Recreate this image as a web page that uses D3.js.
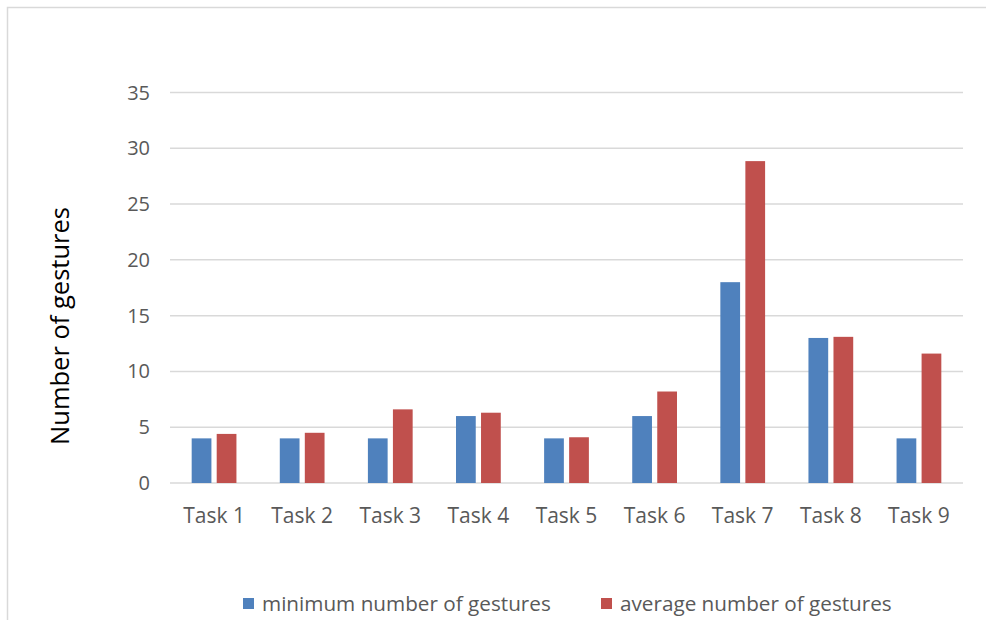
<!DOCTYPE html>
<html>
<head>
<meta charset="utf-8">
<script src="https://cdn.jsdelivr.net/npm/d3@7/dist/d3.min.js"></script>
<style>
  html, body { margin: 0; padding: 0; background: #fff; }
  svg { display: block; }
  text { font-family: "Open Sans", Lato, sans-serif; }
</style>
</head>
<body>
<svg id="chart" width="986" height="620"></svg>
<script>
// Gesture counts per task
const tasks = ["Task 1", "Task 2", "Task 3", "Task 4", "Task 5", "Task 6", "Task 7", "Task 8", "Task 9"];
const minimumGestures = [4, 4, 4, 6, 4, 6, 18, 13, 4];
const averageGestures = [4.4, 4.5, 6.6, 6.3, 4.1, 8.2, 28.85, 13.1, 11.6];
const yTicks = [0, 5, 10, 15, 20, 25, 30, 35];
const seriesNames = ["minimum number of gestures", "average number of gestures"];
const seriesColors = ["#4f81bd", "#c0504d"];

const svg = d3.select("#chart");

// Chart frame
svg.append("path")
  .attr("d", "M7.5,620 L7.5,7.5 L986,7.5")
  .attr("fill", "none")
  .attr("stroke", "#d9d9d9")
  .attr("stroke-width", 1.5);

const plot = { left: 170, right: 963, top: 92.5, bottom: 483 };

const x = d3.scaleBand().domain(tasks).range([plot.left, plot.right]).padding(0);
const y = d3.scaleLinear().domain([0, 35]).range([plot.bottom, plot.top]);

// Horizontal gridlines
svg.append("g")
  .selectAll("line")
  .data(yTicks)
  .join("line")
  .attr("x1", plot.left)
  .attr("x2", plot.right)
  .attr("y1", d => y(d))
  .attr("y2", d => y(d))
  .attr("stroke", "#d9d9d9")
  .attr("stroke-width", 1.5);

// Y tick labels
svg.append("g")
  .selectAll("text")
  .data(yTicks)
  .join("text")
  .attr("x", 150)
  .attr("y", d => y(d))
  .attr("dy", "0.35em")
  .attr("text-anchor", "end")
  .attr("font-size", 20)
  .attr("fill", "#595959")
  .text(d => d);

// X category labels
svg.append("g")
  .selectAll("text")
  .data(tasks)
  .join("text")
  .attr("x", d => x(d) + x.bandwidth() / 2)
  .attr("y", 516)
  .attr("dy", "0.35em")
  .attr("text-anchor", "middle")
  .attr("font-size", 21)
  .attr("fill", "#595959")
  .text(d => d);

// Bars: two per category, positioned inside each band
const barW = x.bandwidth() * 0.224;
const innerGap = x.bandwidth() * 0.06;
const series = [minimumGestures, averageGestures];

series.forEach((vals, si) => {
  svg.append("g")
    .selectAll("rect")
    .data(tasks.map((t, i) => ({ task: t, value: vals[i] })))
    .join("rect")
    .attr("x", d => {
      const c = x(d.task) + x.bandwidth() / 2;
      return si === 0 ? c - innerGap / 2 - barW : c + innerGap / 2;
    })
    .attr("y", d => y(d.value))
    .attr("width", barW)
    .attr("height", d => y(0) - y(d.value))
    .attr("fill", seriesColors[si]);
});

// Y axis title
svg.append("text")
  .attr("transform", "translate(60,326) rotate(-90)")
  .attr("text-anchor", "middle")
  .attr("dy", "0.35em")
  .attr("font-size", 25.5)
  .attr("fill", "#000")
  .text("Number of gestures");

// Legend
const legendItems = [
  { name: seriesNames[0], color: seriesColors[0], x: 243 },
  { name: seriesNames[1], color: seriesColors[1], x: 601 }
];
const lg = svg.append("g");
legendItems.forEach(it => {
  lg.append("rect")
    .attr("x", it.x)
    .attr("y", 598)
    .attr("width", 11)
    .attr("height", 11)
    .attr("fill", it.color);
  lg.append("text")
    .attr("x", it.x + 19)
    .attr("y", 604)
    .attr("dy", "0.35em")
    .attr("font-size", 20.7)
    .attr("fill", "#595959")
    .text(it.name);
});
</script>
</body>
</html>
